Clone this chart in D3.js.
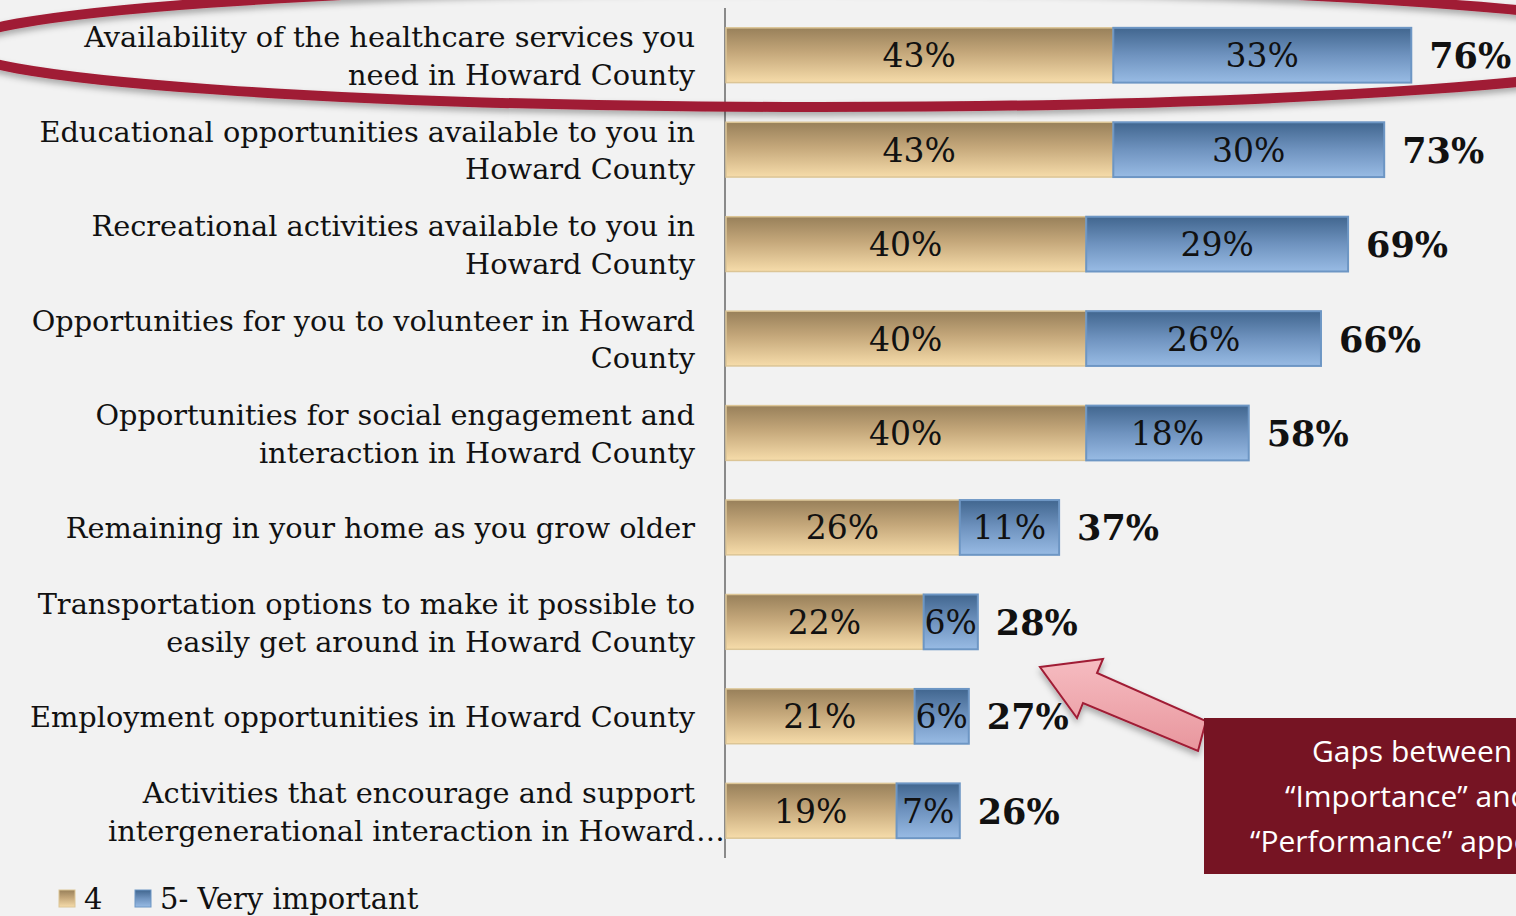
<!DOCTYPE html>
<meta charset="utf-8">
<head>
<style>
  body { margin:0; background:#f2f2f2; }
  svg { display:block; background:#f2f2f2; }
  .cat { font-family:"DejaVu Serif",serif; font-size:28.8px; fill:#111; }
  .val { font-family:"DejaVu Serif",serif; font-size:33px; fill:#111; text-anchor:middle; }
  .tot { font-family:"DejaVu Serif",serif; font-weight:bold; font-size:35px; fill:#111; }
  .legend { font-family:"DejaVu Serif",serif; font-size:29px; fill:#111; }
  .note { font-family:"Open Sans","Noto Sans",sans-serif; font-size:30px; fill:#fff; }
</style>
<script src="https://d3js.org/d3.v7.min.js"></script>
</head>
<body>
<svg width="1516" height="916"></svg>
<script>
// data
var categories = [
  "Availability of the healthcare services you\nneed in Howard County",
  "Educational opportunities available to you in\nHoward County",
  "Recreational activities available to you in\nHoward County",
  "Opportunities for you to volunteer in Howard\nCounty",
  "Opportunities for social engagement and\ninteraction in Howard County",
  "Remaining in your home as you grow older",
  "Transportation options to make it possible to\neasily get around in Howard County",
  "Employment opportunities in Howard County",
  "Activities that encourage and support\nintergenerational interaction in Howard\u2026"
];
var series4 = [43, 43, 40, 40, 40, 26, 22, 21, 19];
var series5 = [33, 30, 29, 26, 18, 11, 6, 6, 7];
var totals  = [76, 73, 69, 66, 58, 37, 28, 27, 26];
var seriesNames = ["4", "5- Very important"];
var noteLines = ["Gaps between", "\u201cImportance\u201d and", "\u201cPerformance\u201d appear"];

var svg = d3.select("svg");
var defs = svg.append("defs");

var gTan = defs.append("linearGradient").attr("id", "gTan").attr("x1",0).attr("y1",0).attr("x2",0).attr("y2",1);
gTan.append("stop").attr("offset","0%").attr("stop-color","#98805a");
gTan.append("stop").attr("offset","45%").attr("stop-color","#c4a77a");
gTan.append("stop").attr("offset","100%").attr("stop-color","#f6dcaa");
var gBlue = defs.append("linearGradient").attr("id", "gBlue").attr("x1",0).attr("y1",0).attr("x2",0).attr("y2",1);
gBlue.append("stop").attr("offset","0%").attr("stop-color","#41668f");
gBlue.append("stop").attr("offset","50%").attr("stop-color","#6f93bf");
gBlue.append("stop").attr("offset","100%").attr("stop-color","#98bbe4");
var gPink = defs.append("linearGradient").attr("id", "gPink").attr("x1",0).attr("y1",0).attr("x2",0).attr("y2",1);
gPink.append("stop").attr("offset","0%").attr("stop-color","#f6bcc1");
gPink.append("stop").attr("offset","100%").attr("stop-color","#e8969d");

var shadow = defs.append("filter").attr("id","shadow").attr("x","-10%").attr("y","-50%").attr("width","120%").attr("height","200%");
shadow.append("feDropShadow").attr("dx",0).attr("dy",4).attr("stdDeviation",3).attr("flood-color","#000").attr("flood-opacity",0.3);

// scales
var x = d3.scaleLinear().domain([0, 100]).range([725, 1628]);
var y = d3.scaleBand().domain(d3.range(categories.length)).range([8, 858])
  .paddingInner(0.42).paddingOuter(0.21);

// axis line
svg.append("line")
  .attr("x1", x(0)).attr("x2", x(0)).attr("y1", 8).attr("y2", 858)
  .attr("stroke", "#8a8a8a").attr("stroke-width", 2);

// bars
var rows = svg.append("g").selectAll("g").data(categories).join("g");

rows.append("rect")
  .attr("x", x(0) + 1)
  .attr("y", function(d,i){ return y(i); })
  .attr("width", function(d,i){ return x(series4[i]) - x(0) - 1; })
  .attr("height", y.bandwidth())
  .attr("fill", "url(#gTan)")
  .attr("stroke", "#dcc596").attr("stroke-width", 1.5);

rows.append("rect")
  .attr("x", function(d,i){ return x(series4[i]); })
  .attr("y", function(d,i){ return y(i); })
  .attr("width", function(d,i){ return x(series4[i] + series5[i]) - x(series4[i]); })
  .attr("height", y.bandwidth())
  .attr("fill", "url(#gBlue)")
  .attr("stroke", "#6d96c4").attr("stroke-width", 2);

rows.append("text").attr("class","val")
  .attr("x", function(d,i){ return (x(0) + x(series4[i])) / 2; })
  .attr("y", function(d,i){ return y(i) + y.bandwidth()/2 + 12; })
  .text(function(d,i){ return series4[i] + "%"; });

rows.append("text").attr("class","val")
  .attr("x", function(d,i){ return (x(series4[i]) + x(series4[i] + series5[i])) / 2; })
  .attr("y", function(d,i){ return y(i) + y.bandwidth()/2 + 12; })
  .text(function(d,i){ return series5[i] + "%"; });

rows.append("text").attr("class","tot")
  .attr("x", function(d,i){ return x(totals[i]) + 18; })
  .attr("y", function(d,i){ return y(i) + y.bandwidth()/2 + 13; })
  .text(function(d,i){ return totals[i] + "%"; });

// category labels (a trailing ellipsis hangs past the right edge)
rows.each(function(d,i){
  var lines = d.split("\n");
  var cy = y(i) + y.bandwidth()/2 + 11;
  var g = d3.select(this);
  lines.forEach(function(l, k){
    var ly = cy + (k - (lines.length - 1)/2) * 37.5;
    var hang = l.slice(-1) === "\u2026";
    g.append("text").attr("class","cat").attr("text-anchor","end")
      .attr("x", 695).attr("y", ly).text(hang ? l.slice(0, -1) : l);
    if (hang) g.append("text").attr("class","cat").attr("x", 696).attr("y", ly).text("\u2026");
  });
});

// red highlight ellipse and separator
svg.append("ellipse")
  .attr("cx", 820).attr("cy", 46).attr("rx", 863).attr("ry", 61)
  .attr("fill","none").attr("stroke","#a01c34").attr("stroke-width",10)
  .attr("filter","url(#shadow)");
svg.append("line")
  .attr("x1", 5).attr("x2", 1516).attr("y1", 292).attr("y2", 292)
  .attr("stroke","#a01c34").attr("stroke-width",5)
  .attr("filter","url(#shadow)");

// arrow
svg.append("path")
  .attr("d","M1040,667 L1103,659 L1097,673 L1206,721 L1198,751 L1083,703 L1077,718 Z")
  .attr("fill","url(#gPink)").attr("stroke","#a01c34").attr("stroke-width",2)
  .attr("filter","url(#shadow)");

// note box
svg.append("rect").attr("x",1204).attr("y",718).attr("width",320).attr("height",156).attr("fill","#761423");
var noteX = [1312, 1285, 1250];
svg.append("g").selectAll("text").data(noteLines).join("text").attr("class","note")
  .attr("x", function(d,i){ return noteX[i]; })
  .attr("y", function(d,i){ return 762 + i*45; })
  .text(function(d){ return d; });

// legend
var legendColors = ["url(#gTan)", "url(#gBlue)"];
var legendX = [59, 135];
var lg = svg.append("g").selectAll("g").data(seriesNames).join("g")
  .attr("transform", function(d,i){ return "translate(" + legendX[i] + ",890)"; });
lg.append("rect").attr("width",16).attr("height",17)
  .attr("fill", function(d,i){ return legendColors[i]; })
  .attr("stroke", function(d,i){ return i ? "#6d96c4" : "#dcc596"; });
lg.append("text").attr("class","legend").attr("x",25).attr("y",19).text(function(d){ return d; });
</script>
</body>
